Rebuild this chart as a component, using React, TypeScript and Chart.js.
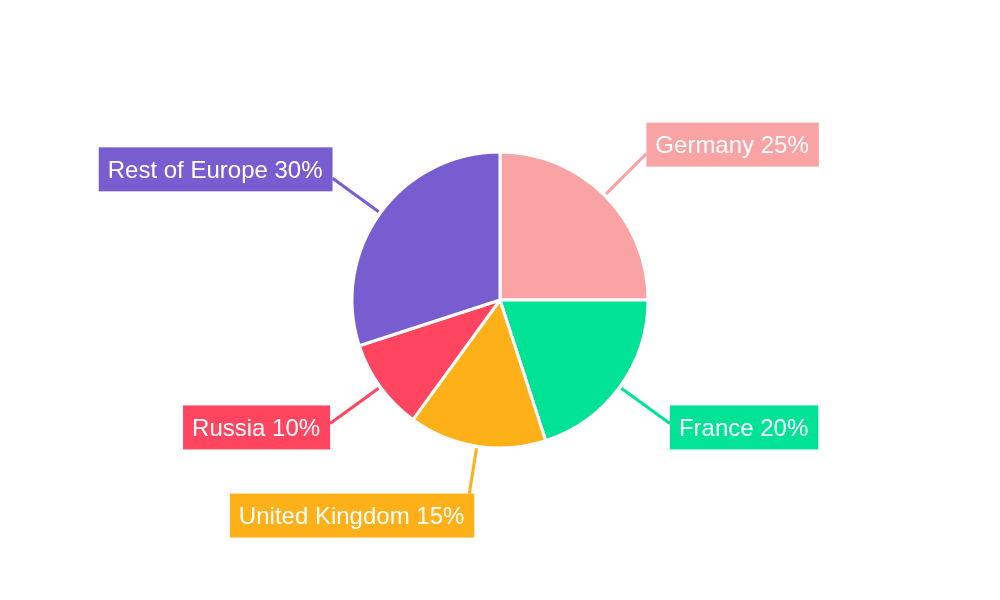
import React, { useEffect, useRef } from 'react';
import { Chart, registerables, Plugin } from 'chart.js';

Chart.register(...registerables);

const countries = ['Germany', 'France', 'United Kingdom', 'Russia', 'Rest of Europe'];
const shares = [25, 20, 15, 10, 30];
const sliceColors = ['#F9A3A4', '#00E396', '#FEB019', '#FF4560', '#775DD0'];

// draws the coloured label boxes with leader lines
const calloutPlugin: Plugin<'pie'> = {
  id: 'callouts',
  afterDraw(chart) {
    const ctx = chart.ctx;
    const meta = chart.getDatasetMeta(0);
    ctx.save();
    ctx.font = '24px "Liberation Sans", Arial, sans-serif';
    ctx.textBaseline = 'middle';
    meta.data.forEach((el: any, i: number) => {
      const { x, y, startAngle, endAngle, outerRadius } = el.getProps(
        ['x', 'y', 'startAngle', 'endAngle', 'outerRadius'],
        true
      );
      const mid = (startAngle + endAngle) / 2;
      const c = Math.cos(mid);
      const s = Math.sin(mid);
      const side = Math.abs(c) > 0.3;
      const reach = side ? outerRadius + (s < 0 ? 59 : 62) : outerRadius + 48;
      const x0 = x + c * (outerRadius + 2);
      const y0 = y + s * (outerRadius + 2);
      const ax = x + c * reach;
      const ay = y + s * reach;
      const color = sliceColors[i];

      ctx.strokeStyle = color;
      ctx.lineWidth = 3;
      ctx.beginPath();
      ctx.moveTo(x0, y0);
      ctx.lineTo(ax, ay);
      ctx.stroke();

      const text = `${countries[i]} ${shares[i]}%`;
      const tw = ctx.measureText(text).width;
      const w = tw + 19;
      const h = 44;
      let bx: number;
      let by: number;
      if (side) {
        bx = c > 0 ? ax : ax - w;
        by = ay + (s < 0 ? -9 : 4) - h / 2;
      } else {
        bx = ax + 5 - w;
        by = s > 0 ? ay : ay - h;
      }
      ctx.fillStyle = color;
      ctx.fillRect(bx, by, w, h);
      ctx.fillStyle = '#ffffff';
      ctx.textAlign = 'left';
      ctx.fillText(text, bx + 9, by + h / 2 + 2);
    });
    ctx.restore();
  },
};

const App: React.FC = () => {
  const canvasRef = useRef<HTMLCanvasElement>(null);

  useEffect(() => {
    document.body.style.margin = '0';
    if (!canvasRef.current) return;
    const chart = new Chart(canvasRef.current, {
      type: 'pie',
      data: {
        labels: countries,
        datasets: [
          {
            data: shares,
            backgroundColor: sliceColors,
            borderColor: '#ffffff',
            borderWidth: 3,
            radius: 148,
          },
        ],
      },
      options: {
        animation: false,
        responsive: true,
        maintainAspectRatio: false,
        plugins: {
          legend: { display: false },
          tooltip: { enabled: false },
        },
      },
      plugins: [calloutPlugin],
    });
    return () => chart.destroy();
  }, []);

  return (
    <div style={{ width: 1000, height: 600, position: 'relative', background: '#fff' }}>
      <canvas ref={canvasRef}></canvas>
    </div>
  );
};

export default App;
